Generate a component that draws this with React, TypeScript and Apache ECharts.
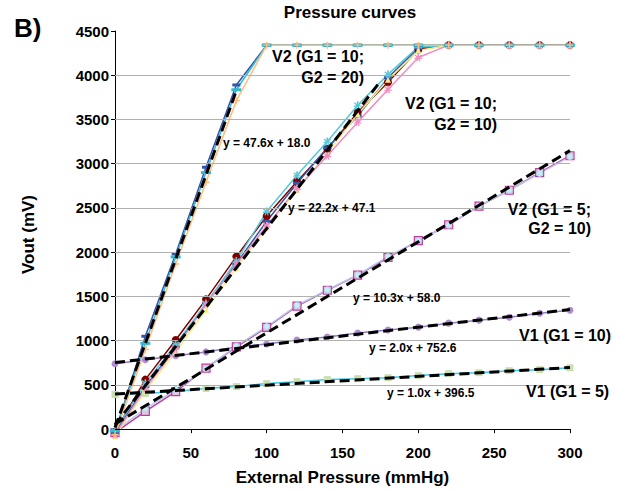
import React, { useEffect, useRef } from "react";
import * as echarts from "echarts";

const pressures = [0, 20, 40, 60, 80, 100, 120, 140, 160, 180, 200, 220, 240, 260, 280, 300];

// V2 (G1 = 10; G2 = 20)
const aBlue = [-40, 1050, 1980, 2960, 3890, 4340, 4340, 4340, 4340, 4340, 4340, 4340, 4340, 4340, 4340, 4340];
const aCyan = [-20, 970, 1946, 2900, 3836, 4340, 4340, 4340, 4340, 4340, 4340, 4340, 4340, 4340, 4340, 4340];
const aOrange = [-60, 900, 1867, 2790, 3712, 4340, 4340, 4340, 4340, 4340, 4340, 4340, 4340, 4340, 4340, 4340];

// V2 (G1 = 10; G2 = 10)
const bDarkRed = [-30, 560, 1008, 1467, 1950, 2408, 2800, 3170, 3580, 3920, 4290, 4340, 4340, 4340, 4340, 4340];
const bCyan = [-20, 520, 960, 1420, 1900, 2460, 2870, 3250, 3660, 4010, 4320, 4340, 4340, 4340, 4340, 4340];
const bPink = [-60, 460, 907, 1410, 1860, 2300, 2720, 3090, 3470, 3840, 4200, 4340, 4340, 4340, 4340, 4340];
const bYellow = [-80, 430, 870, 1350, 1820, 2280, 2700, 3120, 3560, 3950, 4280, 4340, 4340, 4340, 4340, 4340];
const bBlue = [-40, 480, 930, 1420, 1870, 2350, 2780, 3180, 3540, 3970, 4310, 4340, 4340, 4340, 4340, 4340];

// V2 (G1 = 5; G2 = 10)
const cMagenta = [-40, 200, 425, 690, 930, 1150, 1390, 1570, 1740, 1940, 2130, 2310, 2520, 2700, 2900, 3090];
const cLight = [-20, 230, 448, 683, 940, 1160, 1400, 1575, 1745, 1950, 2130, 2305, 2520, 2700, 2890, 3080];

// V1 (G1 = 10)
const dPurple = [739, 784, 829, 873, 929, 963, 1008, 1041, 1086, 1120, 1153, 1198, 1232, 1265, 1310, 1344];
// V1 (G1 = 5)
const eGreen = [392, 403, 425, 459, 481, 515, 537, 560, 571, 582, 605, 627, 638, 661, 672, 694];

// trend line end points [x, y]
const trendA = [[0, 18], [80, 3826]];
const trendB = [[0, 47.1], [175, 3932]];
const trendC = [[0, 58], [300, 3148]];
const trendD = [[0, 752.6], [300, 1352.6]];
const trendE = [[0, 396.5], [300, 696.5]];

const yTicks = [0, 500, 1000, 1500, 2000, 2500, 3000, 3500, 4000, 4500];
const gridValues = [500, 1000, 1500, 2000, 2500, 3000, 3500, 4000];

const FONT = "'Liberation Sans', Arial, sans-serif";
const PLUS = "path://M4,0H6V4H10V6H6V10H4V6H0V4H4Z";
const STAR = "path://M4,0H6V3.3L8.6,1.2L9.6,2.4L7,4.6L10,5.6L9.5,7L6.6,6L7.6,9.4L6.2,9.8L5,6.6L3.8,9.8L2.4,9.4L3.4,6L0.5,7L0,5.6L3,4.6L0.4,2.4L1.4,1.2L4,3.3Z";

function pairs(ys: number[]) {
  return pressures.map((x, i) => [x, ys[i]]);
}

function dataSeries(name: string, ys: number[], color: string, symbol: string, size: any, extra: any = {}) {
  return {
    name,
    type: "line",
    data: pairs(ys),
    symbol,
    symbolSize: size,
    lineStyle: { color, width: 1.5 },
    itemStyle: { color },
    ...extra,
  };
}

function trendSeries(name: string, pts: number[][]) {
  return {
    name,
    type: "line",
    data: pts,
    symbol: "none",
    lineStyle: { color: "#000", width: 3, type: [10, 5] },
    z: 5,
  };
}

export default function App() {
  const ref = useRef<HTMLDivElement>(null);
  useEffect(() => {
    const chart = echarts.init(ref.current!, null, { renderer: "svg" });
    const txt = (x: number, y: number, text: string, size: number, align = "left", extra: any = {}) => ({
      type: "text",
      x,
      y,
      style: {
        text,
        font: `bold ${size}px ${FONT}`,
        fill: "#000",
        textAlign: align,
        textVerticalAlign: "middle",
        ...extra,
      },
      z: 100,
    });
    chart.setOption({
      animation: false,
      backgroundColor: "#fff",
      textStyle: { fontFamily: FONT },
      grid: { left: 115, right: 50, top: 31, bottom: 49, containLabel: false },
      xAxis: {
        type: "value",
        min: 0,
        max: 300,
        interval: 50,
        name: "External Pressure (mmHg)",
        nameLocation: "middle",
        nameGap: 31,
        nameTextStyle: { fontWeight: "bold", fontSize: 17, color: "#000", fontFamily: FONT },
        axisLine: { show: true, lineStyle: { color: "#000", width: 1 } },
        axisTick: { show: true, length: 4, lineStyle: { color: "#000" } },
        axisLabel: { fontWeight: "bold", fontSize: 15, color: "#000", margin: 7, fontFamily: FONT },
        splitLine: { show: false },
      },
      yAxis: {
        type: "value",
        min: -100,
        max: 4500,
        name: "Vout (mV)",
        nameLocation: "middle",
        nameGap: 78,
        nameTextStyle: { fontWeight: "bold", fontSize: 17, color: "#000", fontFamily: FONT },
        axisLine: { show: true, lineStyle: { color: "#000", width: 1 } },
        axisTick: { show: true, length: 4, customValues: yTicks, lineStyle: { color: "#000" } },
        axisLabel: {
          fontWeight: "bold",
          fontSize: 15,
          color: "#000",
          margin: 6,
          customValues: yTicks,
          fontFamily: FONT,
          formatter: (v: number) => String(v),
        },
        splitLine: { show: false },
      },
      title: {
        text: "Pressure curves",
        left: 345,
        textAlign: "center",
        top: -1,
        textStyle: { fontWeight: "bold", fontSize: 17, color: "#000", fontFamily: FONT },
      },
      graphic: [
        txt(14, 28, "B)", 26),
        txt(364, 67, "V2 (G1 = 10;\nG2 = 20)", 16, "right", { lineHeight: 21 }),
        txt(497, 114, "V2 (G1 = 10;\nG2 = 10)", 16, "right", { lineHeight: 21 }),
        txt(591, 219, "V2 (G1 = 5;\nG2 = 10)", 16, "right", { lineHeight: 19 }),
        txt(519, 335, "V1 (G1 = 10)", 16),
        txt(526, 391, "V1 (G1 = 5)", 16),
        txt(223, 143, "y = 47.6x + 18.0", 12),
        txt(288, 208, "y = 22.2x + 47.1", 12),
        txt(353, 298, "y = 10.3x + 58.0", 12),
        txt(369, 348, "y = 2.0x + 752.6", 12),
        txt(387, 393, "y = 1.0x + 396.5", 12),
      ],
      series: [
        {
          name: "grid",
          type: "line",
          data: [],
          markLine: {
            silent: true,
            symbol: "none",
            label: { show: false },
            lineStyle: { color: "#b0b0b0", width: 1, type: "solid" },
            data: [
              ...gridValues.map((v) => ({ yAxis: v })),
              { yAxis: 0, lineStyle: { color: "#000", width: 1, type: "solid" } },
            ],
          },
        },
        dataSeries("V1 G1=5", eGreen, "#c8e0b0", "rect", 7, { lineStyle: { color: "#3cc8e8", width: 1.5 } }),
        dataSeries("V1 G1=10", dPurple, "#b08cd0", "circle", 7, { lineStyle: { color: "#8f7cc0", width: 1.5 } }),
        dataSeries("C magenta", cMagenta, "#c03c9c", "rect", 8, {
          itemStyle: { color: "#e8c4e4", borderColor: "#c03c9c", borderWidth: 1.2 },
        }),
        dataSeries("C light", cLight, "#bfe6f0", "circle", 6, {
          itemStyle: { color: "#c8ecf4", borderColor: "#a8d8e8", borderWidth: 1 },
          lineStyle: { color: "#b8c8ee", width: 1.5 },
        }),
        dataSeries("B darkred", bDarkRed, "#800000", "circle", 8),
        dataSeries("B blue", bBlue, "#3355aa", "rect", [8, 3]),
        dataSeries("B cyan", bCyan, "#55c8d8", STAR, 8),
        dataSeries("B yellow", bYellow, "#f2ee8c", "triangle", 6),
        dataSeries("B pink", bPink, "#f08cc0", STAR, 8),
        dataSeries("A blue", aBlue, "#3355aa", "rect", [8, 3]),
        dataSeries("A cyan", aCyan, "#33bbcc", "rect", [10, 3]),
        dataSeries("A orange", aOrange, "#ffbb80", PLUS, 7),
        trendSeries("trend A", trendA),
        trendSeries("trend B", trendB),
        trendSeries("trend C", trendC),
        trendSeries("trend D", trendD),
        trendSeries("trend E", trendE),
      ],
    });
    return () => chart.dispose();
  }, []);
  return <div ref={ref} style={{ width: 620, height: 491, position: "fixed", left: 0, top: 0 }} />;
}
